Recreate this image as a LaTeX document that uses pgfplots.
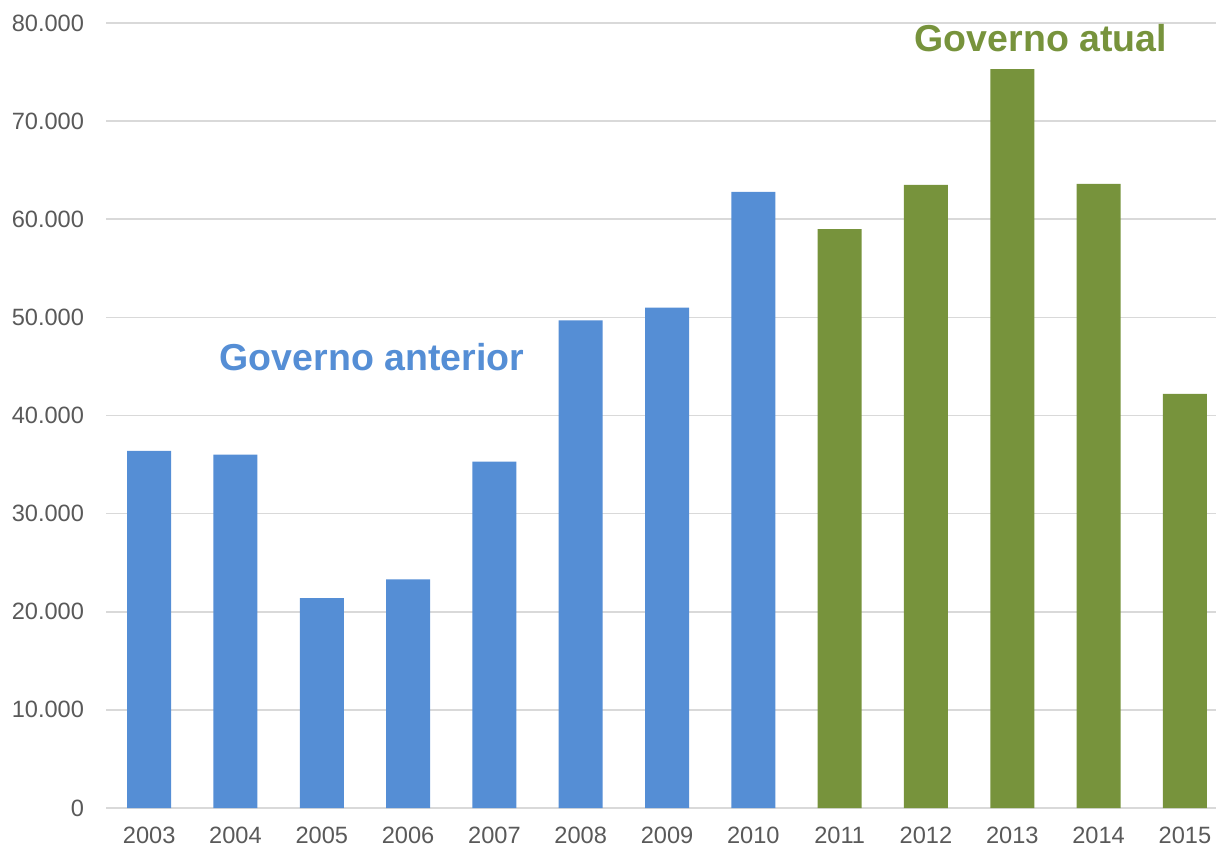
\documentclass[border=0pt]{standalone}
\usepackage{pgfplots}
\pgfplotsset{compat=1.18}
\usepackage{fontspec}
\setmainfont{Liberation Sans}
\definecolor{barblue}{HTML}{558ED5}
\definecolor{bargreen}{HTML}{77933C}
\definecolor{gridgray}{HTML}{D9D9D9}
\definecolor{ticktext}{HTML}{595959}
\begin{document}
\begin{tikzpicture}
\path[use as bounding box] (-53bp,-20bp) rectangle (555bp,404bp);
\begin{axis}[
  at={(0,0)}, anchor=south west,
  scale only axis,
  width=555bp, height=392.5bp,
  xmin=-0.5, xmax=12.36,
  ymin=0, ymax=80000,
  ytick={0,10000,...,80000},
  xtick={0,...,12},
  xticklabels={2003,2004,2005,2006,2007,2008,2009,2010,2011,2012,2013,2014,2015},
  scaled y ticks=false,
  /pgf/number format/.cd, 1000 sep={.}, assume math mode=true,
  /pgfplots/.cd,
  ymajorgrids,
  grid style={gridgray, line width=0.8pt},
  axis x line*=bottom,
  axis y line*=left,
  y axis line style={draw=none},
  x axis line style={gridgray, line width=0.8pt, -},
  major tick length=0pt,
  tick label style={font=\fontsize{11.8bp}{13bp}\selectfont, text=ticktext},
  yticklabel style={xshift=-7.5bp},
  xticklabel style={inner sep=0pt, yshift=-9.5bp},
  ybar, bar width=22bp, bar shift=0pt,
  clip=false,
]
\addplot[fill=barblue, draw=none] coordinates {
 (0,36400) (1,36000) (2,21400) (3,23300) (4,35300) (5,49700) (6,51000) (7,62800)};
\addplot[fill=bargreen, draw=none] coordinates {
 (8,59000) (9,63500) (10,75300) (11,63600) (12,42200)};
\node[text=barblue, font=\fontsize{18.75bp}{22bp}\selectfont\bfseries] at (axis cs:2.58,45960) {Governo anterior};
\node[text=bargreen, font=\fontsize{18.75bp}{22bp}\selectfont\bfseries] at (axis cs:10.33,78470) {Governo atual};
\end{axis}
\end{tikzpicture}
\end{document}
